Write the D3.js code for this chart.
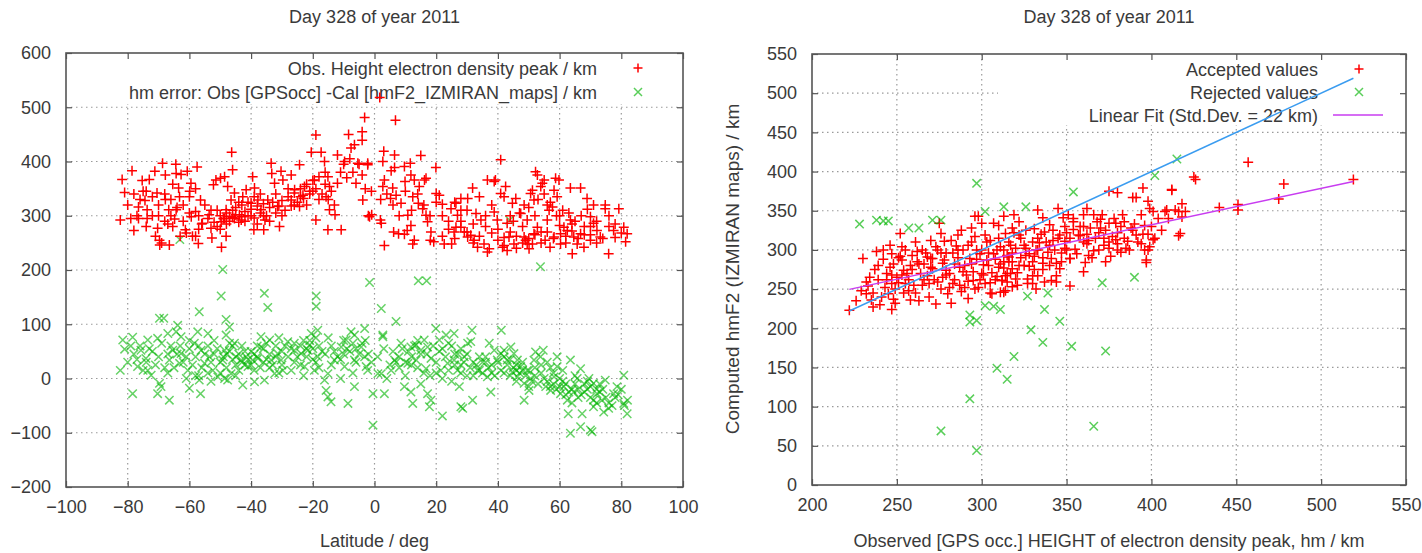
<!DOCTYPE html>
<html>
<head>
<meta charset="utf-8">
<script src="https://cdn.jsdelivr.net/npm/d3@7"></script>
<style>
  html, body { margin: 0; padding: 0; background: #fff; }
  svg { display: block; }
  text { font-family: "Liberation Sans", Arial, sans-serif; fill: #3a3a3a; }
</style>
</head>
<body>
<svg id="chart" width="1422" height="553"></svg>
<script>
// ---------------- DATA ----------------
const chartTitle = "Day 328 of year 2011";

// Left panel: latitude / deg vs observed hmF2 (red +)
const latObsPoints = [
[-81.8,367],[-81,343],[-82.4,292],[-78.6,383],[-78,273],[-75.3,365],[-73,367],[-74,345],[-74.4,328],[-73.7,311],
[-76.5,316],[-76.5,295],[-73.7,295],[-74,280],[-70.3,277],[-69.7,255],[-69.6,246],[-66.5,246],[-71.2,382],[-68.7,397],
[-67.8,375],[-70.5,342],[-67.8,330],[-66.7,311],[-65.4,358],[-64.4,395],[-64.3,378],[-63.5,351],[-63.2,335],[-64.3,311],
[-64.8,294],[-65.4,280],[-62.7,376],[-60.7,382],[-59.5,360],[-59.9,345],[-57.5,390],[-56.4,329],[-58,308],[-59.4,298],
[-61.3,274],[-58,262],[-57.1,249],[-55.8,286],[-53.6,302],[-53,277],[-52.7,259],[-49.6,242],[-52.2,357],[-51.4,366],
[-49.9,369],[-48.6,372],[-46.3,417],[-46,385],[-47.6,354],[-45.4,342],[-46.5,329],[-48.1,311],[-47,299],[-45.4,295],
[-48.6,295],[-49.7,289],[-43.8,302],[-43.2,292],[-48.1,262],[-42.7,335],[-41.6,348],[-40,323],[-39.5,372],[-38.9,351],
[-37.8,329],[-36.8,311],[-35.5,292],[-39.1,274],[-35.9,274],[-33.5,397],[-33.3,378],[-32.4,360],[-34.6,329],[-31.4,317],
[-30.8,280],[-30.3,382],[-29.7,366],[-27,375],[-25.9,348],[-27,329],[-24.3,394],[-24.3,317],[-22.7,354],[-23.2,338],
[-21,345],[-19.5,366],[-20.5,417],[-19,449],[-17.3,417],[-16.2,400],[-15.1,372],[-14.6,354],[-15.7,335],[-14.6,311],
[-19,292],[-15.1,274],[-12.8,302],[-10.8,274],[-12,412],[-9.7,400],[-7.6,425],[-6.5,431],[-8.4,450],[-4,455],
[-3.2,481],[-4,439],[-5.4,397],[-2.2,397],[-3.8,329],[-0.9,302],[1.7,518],[6.8,476],
[3,419],[6.5,412],[15,411],[2.7,400],[-2.2,394],[6.5,389],[5.4,383],[9.7,391],[11.6,397],[11.8,375],
[12.9,366],[16.2,366],[16.7,369],[19.9,389],[9.9,363],[3.2,366],[2.7,354],[5.9,351],[5.2,332],[8.6,323],
[7,338],[12.4,335],[14.5,354],[14.2,323],[15.6,313],[16.7,301],[17.2,289],[10.8,301],[11.8,282],[10.6,273],
[6.2,270],[7.8,267],[9.7,266],[12.4,248],[12.9,255],[3.2,245],[1.9,292],[2.2,286],[-1.6,298],[18.1,255],
[19.2,252],[18.3,270],[21,338],[20,341],[22,321],[24.8,313],[28,332],[30.2,332],[31.8,351],[26.4,323],
[26.9,301],[26.4,279],[25.8,270],[25,248],[22.6,248],[28,279],[29.1,270],[30.2,261],[31.2,264],[32.9,304],
[34.5,292],[32.3,255],[35.5,248],[36.6,233],[37.2,239],[33.4,242],[36.6,366],[38.8,363],[39.2,366],[40.9,403],
[40.9,341],[42.5,354],[42,335],[38.8,307],[39.8,292],[43,286],[43.6,261],[45.2,248],[43,236],[41.5,242],
[44.7,323],[45.8,332],[48.5,320],[47.4,304],[50.6,341],[51.2,347],[51.7,329],[52.2,381],[52.8,375],[54.4,360],
[55,366],[53.9,354],[49.5,292],[48.5,261],[49,255],[49.5,248],[50.1,239],[51.2,248],[51.7,267],[52.8,279],
[56,292],[56.6,310],[57.7,316],[58.2,347],[58.7,369],[59.8,366],[59.2,335],[60.3,267],[61.4,279],[62.5,273],
[63.5,292],[63.5,351],[66.8,351],[64.6,261],[65.7,248],[64.1,230],[68.9,332],[70,298],[71,286],[72.1,273],
[73.2,261],[70,255],[74.8,320],[74.8,313],[75.9,230],[79.2,313],[80.8,279],[81.9,267],[81.4,252],[77.5,273],
[66.8,267],[67.9,242],[58.2,261],[60.3,248],[55.3,255],[56.9,242],
[-50,300],[-49,295],[-48,305],[-47,290],[-46,297],[-45,302],[-44,288],[-43,298],[-42,308],[-41,300],
[-40,312],[-39,296],[-38,318],[-37,305],[-36,322],[-35,300],[-34,315],[-33,325],[-32,305],[-31,318],
[-30,328],[-29,310],[-28,335],[-27,318],[-26,342],[-25,325],[-24,350],[-23,332],[-22,358],[-21,340],
[-20,365],[-19,350],[-18,372],[-17,340],[-16,358],[-15,330],[-14,345],[-13,320],[-12,360],[-11,380],
[-10,395],[-9,370],[-8,405],[-7,380],[-6,360],[-5,395],[-4,375],[-3,350],[-2,300],[-1,345],
[-53,310],[-55,320],[-57,300],[-60,305],[-62,290],[-64,315],[-66,300],[-68,290],[-70,320],[-72,335],
[-75,345],[-77,300],[-79,295],[-61,268],[-59,262],[-63,262],[-57,275],[-67,285],[-71,262],[-69,250],
[-45,315],[-43,320],[-41,325],[-39,335],[-37,340],[-52,288],[-51,280],[-50,275],
[22,262],[24,275],[26,258],[28,290],[30,270],[32,250],[34,262],[36,280],[38,268],[40,255],
[42,245],[44,270],[46,262],[48,250],[50,258],[52,265],[54,250],[56,270],[58,258],[60,282],
[62,262],[64,272],[66,258],[68,280],[70,265],[72,290],[74,258],[76,300],[78,285],[80,268],
[45,290],[47,305],[50,315],[53,330],[55,340],[57,325],[59,300],[61,310],[63,305],[65,290],
[67,300],[69,312],[71,320],[38,320],[34,335],[30,310],[26,325],[22,300],[20,325],[18,300],
[16,320],[14,340],[12,310],[10,345],[8,300],[6,320],[4,340],[2,330],
[-56,285],[-54,295],[-51,310],[-48,285],[-46,310],[-44,325],[-42,290],[-40,300],[-38,285],[-36,300],
[-34,290],[-32,340],[-30,300],[-28,350],[-26,320],[-24,335],[-22,320],[-20,345],[-18,330],[-16,380],
[-80,320],[-78,340],[-76,330],[-72,300],[-70,300],[-68,340],[-66,330],[-62,320],[-60,335],[-58,350],
[24,290],[28,310],[32,285],[36,300],[40,275],[44,300],[48,280],[52,300],[56,320],[60,300],
[64,285],[68,265],[72,250],[76,280],[78,260],[42,260],[46,240],[54,270],[62,250],[70,280]
];

// Left panel: latitude / deg vs hm error (green x)
const latErrPoints = [
[-49.2,201],[-49.7,152],[-35.7,157],[-34.6,131],[-18.9,152],[-18.9,133],[-56.8,123],[-69.7,111],[-68.3,111],[-48.1,109],
[-1.6,177],[2.2,129],[-82.4,15],[-81.6,71],[-81,54],[-78.4,76],[-78.4,-28],[-75.7,52],[-73.5,71],[-70.3,74],
[-74.1,37],[-76.8,22],[-73.5,15],[-72.4,6],[-69.7,-9],[-69.2,-15],[-70.3,-28],[-66.5,-40],[-67,83],[-63.8,98],
[-64.3,86],[-62.7,77],[-65.4,52],[-66.5,34],[-62.7,46],[-63.2,28],[-60.5,15],[-60,-18],[-56.8,-3],[-56.4,-28],
[-58.4,65],[-56.2,52],[-57.3,86],[-54,83],[-53.5,40],[-55.1,28],[-52.4,15],[-50.8,3],[-48.6,0],[-47.6,-3],
[-46.5,9],[-49.2,34],[-48.6,52],[-45.4,65],[-48.1,80],[-47,95],[-44.9,40],[-43.2,34],[-41.6,40],[-42.7,-12],
[-41,22],[-39.5,34],[-37.8,37],[-36.8,58],[-34,71],[-36.8,77],[-38.9,-6],[-35.7,-3],[-33.5,34],[-31.4,46],
[-30.3,34],[-29.7,15],[-32.4,9],[-28.1,68],[-26,52],[-23.8,46],[-21.6,52],[-21,62],[-20.5,83],[-18.4,89],
[-22.7,22],[-19.5,15],[-18.4,40],[-16.2,-3],[-15.7,-22],[-15.1,-34],[-14.1,-43],[-15.1,9],[-13,34],[-10.8,58],
[-9.2,71],[-7.6,86],[-6.5,80],[-8.6,-46],[-6.5,-15],[-9.7,22],[-6.5,34],[-4.3,58],[-3.2,40],[-2.7,22],
[-0.5,-28],[-0.5,-86],[1.1,9],[2.7,77],[3.2,-28],
[53.8,206],[14.2,180],[16.9,180],[7,105],[-3.2,92],[2.7,80],[41.1,89],[19.9,92],[31.6,89],[31.2,68],
[21,71],[25.8,83],[23.2,80],[8.6,65],[11.8,58],[13.5,62],[15,52],[16.1,71],[17.2,58],[18.3,37],
[16.7,18],[13.5,34],[10.8,28],[6.5,34],[5.4,15],[2.2,9],[-2.2,15],[11.8,-25],[9.7,-15],[12.4,-46],
[17.2,-28],[17.8,-52],[18.3,-40],[22,-69],[21.5,15],[23.7,28],[25.8,34],[28,55],[29.1,40],[30.2,65],
[26.9,15],[27.5,-15],[28,-52],[28.6,-55],[31.8,-40],[33.4,15],[36.6,3],[37.2,65],[38.8,52],[39.8,34],
[37.7,-25],[41,46],[43,34],[42,52],[44.2,58],[45.2,46],[46.3,34],[44.7,12],[46.3,3],[48.5,-9],
[49.5,15],[47.4,22],[50.6,0],[50.1,-22],[48.5,-40],[52.2,49],[53.8,40],[54.7,52],[51.7,34],[55.5,-15],
[57.1,-22],[59.2,40],[59.2,22],[60.3,-28],[61.4,-15],[62.5,-40],[63.5,34],[64.6,-25],[62.8,-65],[63.5,-101],
[66.8,-89],[70,-95],[70.5,-98],[66.8,18],[67.3,-65],[69.5,0],[71,-52],[72.1,-28],[73.7,-40],[74.8,-3],
[74.3,-62],[75.9,-55],[77.5,-28],[78.6,-15],[80.8,6],[80.8,-46],[81.9,-65],[71,-9],[65.7,0],[58.2,3],
[-63.1,256],[43.8,292],
[-78,45],[-76,60],[-74,30],[-72,50],[-70,40],[-68,20],[-66,60],[-64,45],[-62,30],[-60,55],
[-58,40],[-56,20],[-54,60],[-52,45],[-50,30],[-49,40],[-48,20],[-47,50],[-46,35],[-45,25],
[-44,45],[-43,30],[-42,50],[-41,35],[-40,25],[-39,45],[-38,40],[-37,20],[-36,55],[-35,35],
[-34,45],[-33,25],[-32,60],[-30,50],[-28,40],[-26,30],[-24,60],[-22,40],[-21,70],[-20,55],
[-19,30],[-17,50],[-14,60],[-12,40],[-10,70],[-8,50],[-6,30],[-4,65],[-2,45],[-80,30],
[-67,10],[-61,0],[-57,5],[-53,-5],[-45,5],[-31,10],[-27,15],[-23,5],[-18,20],[-11,0],[-7,10],
[5,25],[8,40],[11,50],[13,60],[15,45],[19,60],[21,50],[23,40],[25,60],[27,45],
[29,30],[31,20],[33,25],[35,10],[37,20],[39,5],[41,15],[43,25],[45,20],[47,10],
[49,5],[51,-5],[53,-10],[55,0],[57,-15],[59,-20],[61,-5],[63,-25],[65,-10],[67,-30],
[69,-20],[71,-40],[73,-25],[75,-35],[77,-50],[79,-30],[81,-50],[82,-40],[44,5],[46,-5],
[48,15],[52,20],[54,25],[56,30],[58,10],[60,0],[62,-30],[64,-45],[66,-20],[68,-10],
[70,-15],[72,-20],[36,30],[34,40],[32,5],[28,10],[26,25],[24,15],[22,0],[18,5],
[16,10],[14,20],[12,25],[10,30],[8,20],[6,50],[4,0],
[-79,60],[-77,35],[-75,15],[-73,55],[-71,25],[-69,65],[-67,45],[-65,20],[-63,60],[-61,40],
[-59,25],[-57,60],[-55,45],[-53,30],[-51,55],[-50,10],[-48,45],[-46,60],[-44,15],[-42,25],
[-40,50],[-38,60],[-36,30],[-34,20],[-32,40],[-30,25],[-29,60],[-27,55],[-25,40],[-23,70],
[-22,55],[-20,35],[-18,60],[-16,45],[-15,75],[-13,50],[-11,35],[-9,55],[-7,65],[-5,45],
[-3,70],[-1,30],[-60,70],[-58,5],[-54,10],[-52,70],[-47,65],[-43,60],[-39,15],[-35,65],
[-31,75],[-26,65],[-24,25],[-19,75],[-14,25],[-10,45],[-6,55],
[1,40],[3,55],[7,30],[9,55],[12,40],[14,70],[17,45],[20,30],[22,55],[24,65],
[26,45],[28,25],[30,45],[32,30],[34,15],[36,40],[38,25],[40,30],[42,10],[44,35],
[46,25],[48,30],[50,15],[52,5],[54,10],[56,-5],[58,-10],[60,-15],[62,-10],[64,-20],
[66,-35],[68,-25],[70,-35],[72,-45],[74,-20],[76,-45],[78,-35],[80,-20],[57,20],[61,15],
[65,5],[69,-5],[73,-10],[50,-15],[46,15],[42,40],[38,10],[35,30],[30,5],[25,-5],
[20,10],[15,-10],[10,5]
];

// Right panel: observed hm vs computed hmF2, accepted (red +)
const acceptedPoints = [
[230,289],[222,223],[232,259],[232,244],[235,236],[236,227],[239,280],[242,300],[244,270],[247,295],
[248,282],[247,257],[245,244],[248,237],[247,224],[250,265],[252,321],[253,304],[253,287],[254,274],
[255,257],[257,248],[258,280],[259,293],[261,310],[263,235],[265,300],[266,282],[268,267],[269,257],
[270,312],[271,289],[273,231],[273,304],[275,334],[276,321],[277,265],[278,287],[279,274],[280,244],
[282,312],[283,257],[284,282],[286,300],[288,325],[289,272],[290,252],[292,306],[294,282],[295,261],
[296,317],[296,343],[298,343],[300,334],[299,295],[300,270],[302,257],[303,287],[306,244],[305,312],
[307,334],[309,300],[310,278],[312,261],[313,343],[314,321],[316,291],[313,246],[311,246],[317,270],
[425,393],[412,377],[395,379],[389,367],[391,367],[380,373],[375,375],[398,362],[399,353],[401,349],
[418,359],[414,351],[409,351],[420,349],[417,321],[402,315],[398,300],[397,287],[394,308],[391,319],
[388,328],[384,336],[383,345],[379,334],[380,308],[377,317],[375,302],[373,285],[372,315],[370,328],
[368,336],[366,345],[364,328],[362,353],[360,345],[362,308],[363,293],[360,272],[357,319],[354,326],
[354,336],[351,345],[348,341],[345,353],[346,319],[349,302],[352,289],[352,254],[346,276],[344,267],
[341,289],[340,306],[337,323],[336,341],[333,351],[333,315],[332,300],[330,285],[330,267],[327,257],
[326,293],[325,306],[322,319],[322,336],[319,345],[318,328],[317,306],[315,293],[313,285],[314,267],
[315,259],[312,261],[314,248],[318,276],[320,263],[322,280],[336,283],[337,259],[333,267],[341,261],
[344,259],[332,250],[330,257],[375,334],[385,302],
[457,412],[478,384],[519,390],[475,365],[451,358],[451,351],[440,354],[426,390],[416,318],[416,349],
[418,342],[412,376],[408,349],[401,313],[399,304],[397,284],[396,331],
[283,296],[287,278],[291,268],[293,289],[297,300],[299,262],[301,281],[304,296],[306,271],[308,288],
[311,304],[313,277],[316,285],[318,296],[321,271],[323,290],[326,302],[328,279],[331,292],[334,309],
[336,275],[339,297],[342,312],[344,283],[347,296],[349,311],[352,289],[355,301],[358,318],[361,284],
[363,312],[366,299],[369,322],[372,306],[376,292],[379,313],[382,297],[386,311],[263,282],[266,262],
[268,291],[271,276],[274,259],[276,296],[279,268],[281,252],[285,305],[288,247],[260,255],[256,270],
[251,258],[247,268],[243,252],[239,262],[236,245],[233,254],[241,240],[249,232],[254,245],[258,236],
[292,238],[296,250],[305,258],[309,266],[318,253],[327,263],[238,298],[246,306],[252,292],[262,298],
[270,289],[278,311],[286,319],[294,328],[302,319],[310,331],[319,322],[331,327],[340,332],[350,322],
[360,330],[370,339],[380,322],[390,333],[395,320],
[226,235],[229,248],[234,265],[237,275],[240,230],[242,288],[244,262],[246,278],[249,250],[251,290],
[253,268],[255,300],[257,262],[259,275],[261,245],[262,285],[264,270],[265,255],[267,296],[269,240],
[270,278],[272,262],[274,300],[276,250],[277,283],[279,296],[281,270],[282,232],[284,262],[286,290],
[287,255],[289,300],[290,280],[292,260],[294,310],[295,272],[297,288],[298,252],[300,300],[301,268],
[303,310],[304,280],[305,245],[307,295],[308,262],[310,315],[311,282],[313,300],[315,270],[316,310],
[318,285],[320,302],[321,255],[323,315],[325,280],[326,325],[328,295],[330,310],[331,275],[333,300],
[335,320],[336,290],[338,310],[340,280],[342,325],[343,300],[345,315],[347,285],[349,330],[350,300],
[352,315],[354,340],[356,295],[358,330],[360,310],[362,320],[365,290],[367,315],[369,300],[371,345],
[373,325],[375,310],[378,340],[380,300],[382,330],[384,315],[387,300],[389,325],[392,310],[394,345],
[396,300],[398,320],[400,330],[404,340],[406,325],[410,340]
];

// Right panel: rejected (green x)
const rejectedPoints = [
[228,333],[238,338],[242,337],[245,337],[257,328],[263,328],[271,338],[276,338],[297,385],[302,349],
[313,355],[326,355],[354,374],[415,416],[402,395],[371,258],[390,265],[327,241],[339,245],[302,229],
[307,228],[311,224],[337,224],[293,217],[293,208],[297,210],[346,209],[329,198],[336,182],[353,177],
[373,171],[319,164],[309,149],[315,135],[293,110],[276,69],[366,75],[297,44]
];

// Linear fit and identity line
const fitSlope = 0.4636;
const fitIntercept = 146.7;
const lineRange = [222, 519];

// Axis ticks
const leftXTicks = [-100, -80, -60, -40, -20, 0, 20, 40, 60, 80, 100];
const leftYTicks = [-200, -100, 0, 100, 200, 300, 400, 500, 600];
const rightXTicks = [200, 250, 300, 350, 400, 450, 500, 550];
const rightYTicks = [0, 50, 100, 150, 200, 250, 300, 350, 400, 450, 500, 550];

// Texts
const leftXLabel = "Latitude / deg";
const leftLegend = ["Obs. Height electron density peak / km", "hm error: Obs [GPSocc] -Cal [hmF2_IZMIRAN_maps] / km"];
const rightXLabel = "Observed [GPS occ.] HEIGHT of electron density peak, hm / km";
const rightYLabel = "Computed hmF2 (IZMIRAN maps) / km";
const rightLegend = ["Accepted values", "Rejected values", "Linear Fit (Std.Dev. = 22 km)"];

// ---------------- DRAWING ----------------
const svg = d3.select("#chart");
const RED = "#ff0000", GREEN = "#00b400", BLUE = "#3a9cf0", MAGENTA = "#c83cf0";
const FS = 18;

function plus(g, x, y, s) {
  g.append("path").attr("d", `M${x - s},${y}H${x + s}M${x},${y - s}V${y + s}`)
    .attr("stroke", RED).attr("stroke-width", 1.5).attr("fill", "none");
}
function cross(g, x, y, s, op) {
  g.append("path").attr("d", `M${x - s},${y - s}L${x + s},${y + s}M${x - s},${y + s}L${x + s},${y - s}`)
    .attr("stroke", GREEN).attr("stroke-width", 1.5).attr("fill", "none").attr("stroke-opacity", op);
}

function frame(cfg) {
  const g = svg.append("g");
  const x = d3.scaleLinear().domain(cfg.xDomain).range([cfg.left, cfg.right]);
  const y = d3.scaleLinear().domain(cfg.yDomain).range([cfg.bottom, cfg.top]);
  const grid = g.append("g").attr("stroke", "#9a9a9a").attr("stroke-width", 1.2).attr("stroke-dasharray", "1.5,3.5");
  cfg.xTicks.slice(1, -1).forEach(t => {
    grid.append("line").attr("x1", x(t)).attr("x2", x(t)).attr("y1", cfg.top).attr("y2", cfg.bottom);
  });
  cfg.yTicks.slice(1, -1).forEach(t => {
    grid.append("line").attr("x1", cfg.left).attr("x2", cfg.right).attr("y1", y(t)).attr("y2", y(t));
  });
  g.append("rect").attr("x", cfg.legendBox[0]).attr("y", cfg.top + 1)
    .attr("width", cfg.right - cfg.legendBox[0] - 1).attr("height", cfg.legendBox[1] - cfg.top)
    .attr("fill", "#fff");
  const tk = 6;
  const axB = g.append("g").attr("transform", `translate(0,${cfg.bottom})`)
    .call(d3.axisBottom(x).tickValues(cfg.xTicks).tickSize(-tk).tickPadding(15).tickFormat(d3.format("d")));
  const axT = g.append("g").attr("transform", `translate(0,${cfg.top})`)
    .call(d3.axisTop(x).tickValues(cfg.xTicks).tickSize(-tk).tickFormat(""));
  const axL = g.append("g").attr("transform", `translate(${cfg.left},0)`)
    .call(d3.axisLeft(y).tickValues(cfg.yTicks).tickSize(-tk).tickPadding(15).tickFormat(d3.format("d")));
  const axR = g.append("g").attr("transform", `translate(${cfg.right},0)`)
    .call(d3.axisRight(y).tickValues(cfg.yTicks).tickSize(-tk).tickFormat(""));
  [axB, axT, axL, axR].forEach(a => {
    a.select(".domain").remove();
    a.selectAll(".tick line").attr("stroke", "#555").attr("stroke-width", 1.2);
    a.selectAll("text").attr("font-size", FS).attr("fill", "#3a3a3a")
      .attr("font-family", '"Liberation Sans", Arial, sans-serif');
  });
  axB.selectAll("text").attr("dy", "0.6em");
  g.append("rect").attr("x", cfg.left).attr("y", cfg.top)
    .attr("width", cfg.right - cfg.left).attr("height", cfg.bottom - cfg.top)
    .attr("fill", "none").attr("stroke", "#555").attr("stroke-width", 1.6);
  const cx = (cfg.left + cfg.right) / 2;
  g.append("text").attr("x", cx).attr("y", 23).attr("text-anchor", "middle").attr("font-size", FS).text(chartTitle);
  g.append("text").attr("x", cx).attr("y", 547).attr("text-anchor", "middle").attr("font-size", FS).text(cfg.xLabel);
  return { g, x, y };
}

// ---- Left panel
const L = frame({
  xDomain: [-100, 100], yDomain: [-200, 600],
  left: 66, right: 683, top: 53, bottom: 487,
  xTicks: leftXTicks, yTicks: leftYTicks, xLabel: leftXLabel,
  legendBox: [120, 103]
});
L.g.append("text").attr("x", 597).attr("y", 75).attr("text-anchor", "end").attr("font-size", FS).text(leftLegend[0]);
L.g.append("text").attr("x", 597).attr("y", 99).attr("text-anchor", "end").attr("font-size", FS).text(leftLegend[1]);
plus(L.g, 638, 68, 4.5);
cross(L.g, 638, 92, 4, 0.65);
const lp = L.g.append("g");
latErrPoints.forEach(d => cross(lp, L.x(d[0]), L.y(d[1]), 4.2, 0.6));
latObsPoints.forEach(d => plus(lp, L.x(d[0]), L.y(d[1]), 5));

// ---- Right panel
const R = frame({
  xDomain: [200, 550], yDomain: [0, 550],
  left: 812, right: 1406, top: 54, bottom: 485,
  xTicks: rightXTicks, yTicks: rightYTicks, xLabel: rightXLabel,
  legendBox: [998, 124]
});
R.g.append("text").attr("transform", "translate(739,269) rotate(-90)").attr("text-anchor", "middle")
  .attr("font-size", 19).text(rightYLabel);
R.g.append("text").attr("x", 1318).attr("y", 76).attr("text-anchor", "end").attr("font-size", FS).text(rightLegend[0]);
R.g.append("text").attr("x", 1318).attr("y", 99).attr("text-anchor", "end").attr("font-size", FS).text(rightLegend[1]);
R.g.append("text").attr("x", 1318).attr("y", 122).attr("text-anchor", "end").attr("font-size", FS).text(rightLegend[2]);
plus(R.g, 1359, 69, 4.5);
cross(R.g, 1359, 92, 4, 0.65);
R.g.append("line").attr("x1", 1333).attr("x2", 1383).attr("y1", 115).attr("y2", 115)
  .attr("stroke", MAGENTA).attr("stroke-width", 1.5);
const rp = R.g.append("g");
acceptedPoints.forEach(d => plus(rp, R.x(d[0]), R.y(d[1]), 5));
rejectedPoints.forEach(d => cross(rp, R.x(d[0]), R.y(d[1]), 4.2, 0.65));
const fitLine = d3.line().x(d => R.x(d)).y(d => R.y(fitSlope * d + fitIntercept));
const idLine = d3.line().x(d => R.x(d)).y(d => R.y(d));
R.g.append("path").attr("d", fitLine(lineRange)).attr("stroke", MAGENTA).attr("stroke-width", 1.5).attr("fill", "none");
R.g.append("path").attr("d", idLine(lineRange)).attr("stroke", BLUE).attr("stroke-width", 1.5).attr("fill", "none");
</script>
</body>
</html>
